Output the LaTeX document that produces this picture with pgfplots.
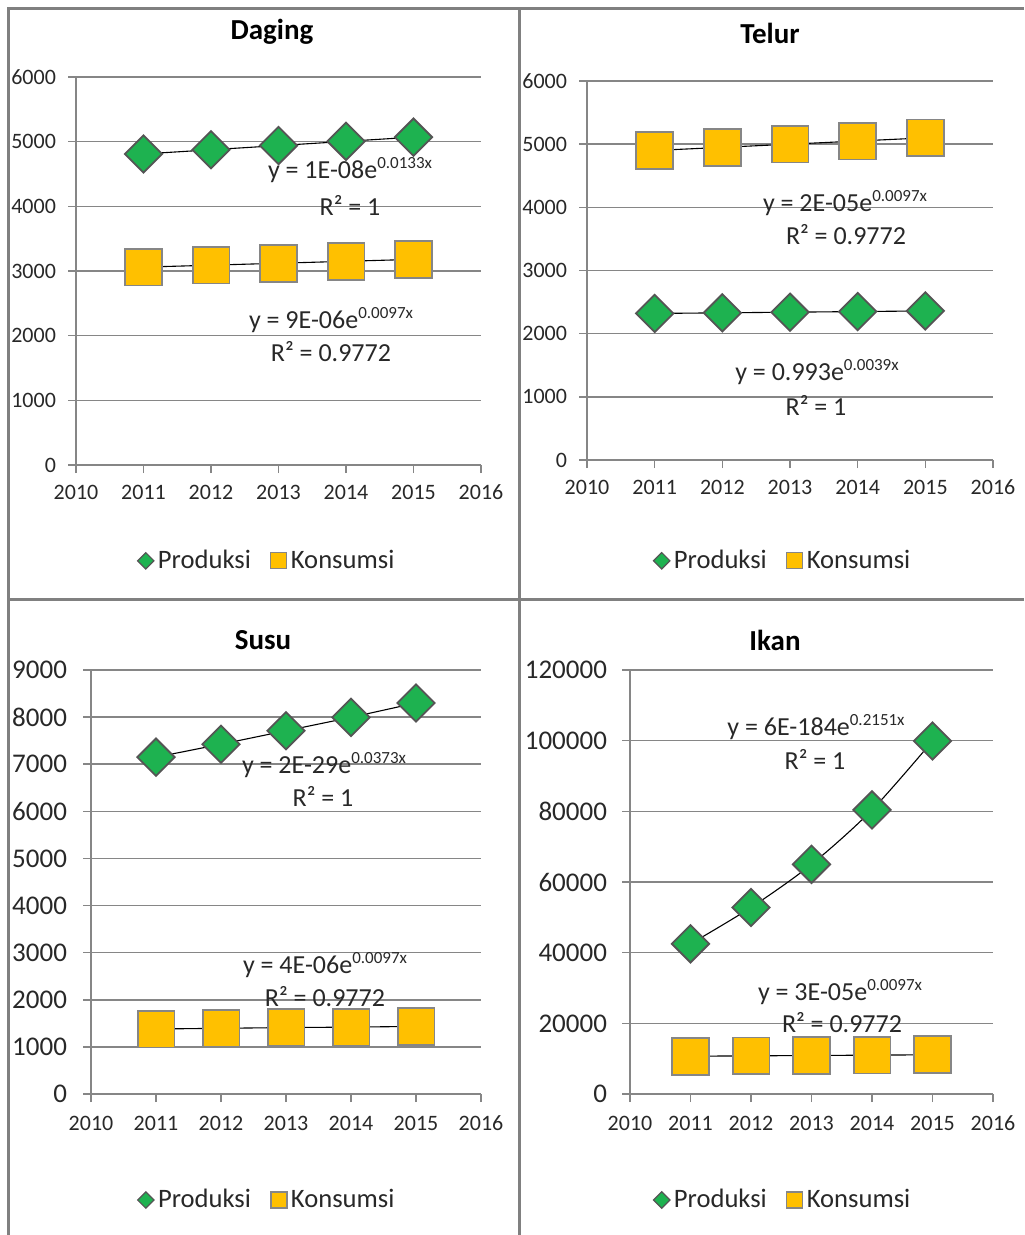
\documentclass[border=0pt]{standalone}
\usepackage{pgfplots}
\pgfplotsset{compat=1.18}
\usepackage{fontspec}
\setmainfont{Carlito}
\definecolor{mygreen}{RGB}{30,178,80}
\definecolor{myyellow}{RGB}{255,192,0}
\definecolor{gridc}{RGB}{134,134,134}
\definecolor{framec}{RGB}{128,128,128}
\definecolor{mkedge}{RGB}{85,85,85}
\definecolor{txt}{RGB}{40,40,40}
\pgfplotsset{
  panel/.style={
    scale only axis, anchor=south west, clip=false,
    axis x line=bottom, axis y line=left,
    axis line style={-, draw=gridc, line width=0.75pt},
    ymajorgrids, grid style={gridc, line width=0.75pt},
    tick align=outside, major tick length=4pt,
    tick style={gridc, line width=0.75pt},
    xmin=2010, xmax=2016, xtick={2010,2011,2012,2013,2014,2015,2016}, ymin=0,
    /pgf/number format/fixed, /pgf/number format/precision=0,
    /pgf/number format/1000 sep={},
    /pgf/number format/assume math mode=true,
    scaled y ticks=false, scaled x ticks=false,
    xticklabel style={font=\fontsize{11}{12}\selectfont, text=txt},
    yticklabel style={text=txt},
    legend columns=2,
    legend style={draw=none, fill=none, font=\fontsize{13.3}{15}\selectfont, text=txt,
      /tikz/every even column/.append style={column sep=8pt}, anchor=center},
  },
  prod/.style={only marks, mark=square*, mark size=6.6pt,
    mark options={rotate=45, fill=mygreen, draw=mkedge, line width=0.9pt},
    legend image code/.code={\draw[only marks, mark=square*, mark size=2.9pt, mark options={rotate=45, fill=mygreen, draw=mkedge, line width=0.6pt}] plot coordinates {(0.15cm,0cm)};}},
  kons/.style={only marks, mark=square*, mark size=9.2pt,
    mark options={fill=myyellow, draw=gridc, line width=0.9pt},
    legend image code/.code={\draw[only marks, mark=square*, mark size=4pt, mark options={fill=myyellow, draw=gridc, line width=0.6pt}] plot coordinates {(0.15cm,0cm)};}},
  trend/.style={black, line width=0.55pt, no markers, forget plot},
}
\newcommand{\eq}[2]{y = #1e\raisebox{0.75ex}{\fontsize{8.5}{9}\selectfont #2}}
\begin{document}
\begin{tikzpicture}
\useasboundingbox (0,0) rectangle (512pt,-617.5pt);
\tikzset{lbl/.style={font=\fontsize{13}{15}\selectfont, text=txt, inner sep=0pt}}
% frame
\draw[framec, line width=1.5pt] (4.25pt,-617.5pt) -- (4.25pt,-4.25pt) -- (512pt,-4.25pt);
\draw[framec, line width=1.5pt] (259.5pt,-4.25pt) -- (259.5pt,-617.5pt);
\draw[framec, line width=1.5pt] (4.25pt,-299.5pt) -- (512pt,-299.5pt);

% Daging
\begin{axis}[panel, at={(38pt,-232.5pt)}, width=202.5pt, height=194pt,
  ymax=6000, ytick={0,1000,2000,3000,4000,5000,6000},
  yticklabel style={font=\fontsize{11}{12}\selectfont, xshift=-2.5pt},
  xticklabel style={yshift=-2.5pt},
  legend style={at={(0.474,-0.247)}}]
\addplot[prod] coordinates {(2011,4810) (2012,4875) (2013,4940) (2014,5005) (2015,5070)};
\addlegendentry{Produksi}
\addplot[kons] coordinates {(2011,3060) (2012,3090) (2013,3120) (2014,3150) (2015,3180)};
\addlegendentry{Konsumsi}
\addplot[trend] coordinates {(2011,4810) (2012,4875) (2013,4940) (2014,5005) (2015,5070)};
\addplot[trend] coordinates {(2011,3060) (2012,3090) (2013,3120) (2014,3150) (2015,3180)};
\end{axis}

% Telur
\begin{axis}[panel, at={(293.5pt,-230pt)}, width=203pt, height=189.5pt,
  ymax=6000, ytick={0,1000,2000,3000,4000,5000,6000},
  yticklabel style={font=\fontsize{11}{12}\selectfont, xshift=-2.5pt},
  xticklabel style={yshift=-2.5pt},
  legend style={at={(0.485,-0.266)}}]
\addplot[prod] coordinates {(2011,2320) (2012,2330) (2013,2340) (2014,2350) (2015,2360)};
\addlegendentry{Produksi}
\addplot[kons] coordinates {(2011,4900) (2012,4950) (2013,5000) (2014,5050) (2015,5100)};
\addlegendentry{Konsumsi}
\addplot[trend] coordinates {(2011,2320) (2012,2330) (2013,2340) (2014,2350) (2015,2360)};
\addplot[trend] coordinates {(2011,4900) (2012,4950) (2013,5000) (2014,5050) (2015,5100)};
\end{axis}

% Susu
\begin{axis}[panel, at={(45.5pt,-547pt)}, width=195pt, height=212pt,
  ymax=9000, ytick={0,1000,2000,3000,4000,5000,6000,7000,8000,9000},
  yticklabel style={font=\fontsize{13.5}{15}\selectfont, xshift=-4.5pt},
  xticklabel style={yshift=-3.5pt},
  legend style={at={(0.454,-0.250)}}]
\addplot[prod] coordinates {(2011,7150) (2012,7425) (2013,7710) (2014,7995) (2015,8300)};
\addlegendentry{Produksi}
\addplot[kons] coordinates {(2011,1380) (2012,1395) (2013,1410) (2014,1420) (2015,1435)};
\addlegendentry{Konsumsi}
\addplot[trend] coordinates {(2011,7150) (2012,7425) (2013,7710) (2014,7995) (2015,8300)};
\addplot[trend] coordinates {(2011,1380) (2012,1395) (2013,1410) (2014,1420) (2015,1435)};
\end{axis}

% Ikan
\begin{axis}[panel, at={(315pt,-547pt)}, width=181.5pt, height=212pt,
  ymax=120000, ytick={0,20000,40000,60000,80000,100000,120000},
  yticklabel style={font=\fontsize{13.5}{15}\selectfont, xshift=-4pt},
  xticklabel style={yshift=-3.5pt},
  legend style={at={(0.424,-0.250)}}]
\addplot[prod] coordinates {(2011,42500) (2012,52800) (2013,65000) (2014,80400) (2015,99900)};
\addlegendentry{Produksi}
\addplot[kons] coordinates {(2011,10700) (2012,10800) (2013,10900) (2014,11000) (2015,11100)};
\addlegendentry{Konsumsi}
\addplot[trend, smooth] coordinates {(2011,42500) (2012,52800) (2013,65000) (2014,80400) (2015,99900)};
\addplot[trend] coordinates {(2011,10700) (2012,10800) (2013,10900) (2014,11000) (2015,11100)};
\end{axis}

% titles
\node[font=\fontsize{14.5}{16}\selectfont\bfseries] at (136pt,-16pt) {Daging};
\node[font=\fontsize{14.5}{16}\selectfont\bfseries] at (385pt,-16.5pt) {Telur};
\node[font=\fontsize{14.5}{16}\selectfont\bfseries] at (131.5pt,-320pt) {Susu};
\node[font=\fontsize{14.5}{16}\selectfont\bfseries] at (387.5pt,-320pt) {Ikan};

% trendline equations
\node[lbl] at (175pt,-85pt) {\eq{1E-08}{0.0133x}};
\node[lbl] at (175pt,-102.5pt) {R² = 1};
\node[lbl] at (165.5pt,-160pt) {\eq{9E-06}{0.0097x}};
\node[lbl] at (165.5pt,-176pt) {R² = 0.9772};

\node[lbl] at (422.5pt,-101.5pt) {\eq{2E-05}{0.0097x}};
\node[lbl] at (423pt,-117.5pt) {R² = 0.9772};
\node[lbl] at (408.5pt,-186pt) {\eq{0.993}{0.0039x}};
\node[lbl] at (408pt,-202.5pt) {R² = 1};

\node[lbl] at (162pt,-382.5pt) {\eq{2E-29}{0.0373x}};
\node[lbl] at (161.5pt,-398pt) {R² = 1};
\node[lbl] at (162.5pt,-482.5pt) {\eq{4E-06}{0.0097x}};
\node[lbl] at (162.5pt,-498.5pt) {R² = 0.9772};

\node[lbl] at (408pt,-363.5pt) {\eq{6E-184}{0.2151x}};
\node[lbl] at (407.5pt,-379.5pt) {R² = 1};
\node[lbl] at (420pt,-496pt) {\eq{3E-05}{0.0097x}};
\node[lbl] at (421pt,-511.5pt) {R² = 0.9772};
\end{tikzpicture}
\end{document}
